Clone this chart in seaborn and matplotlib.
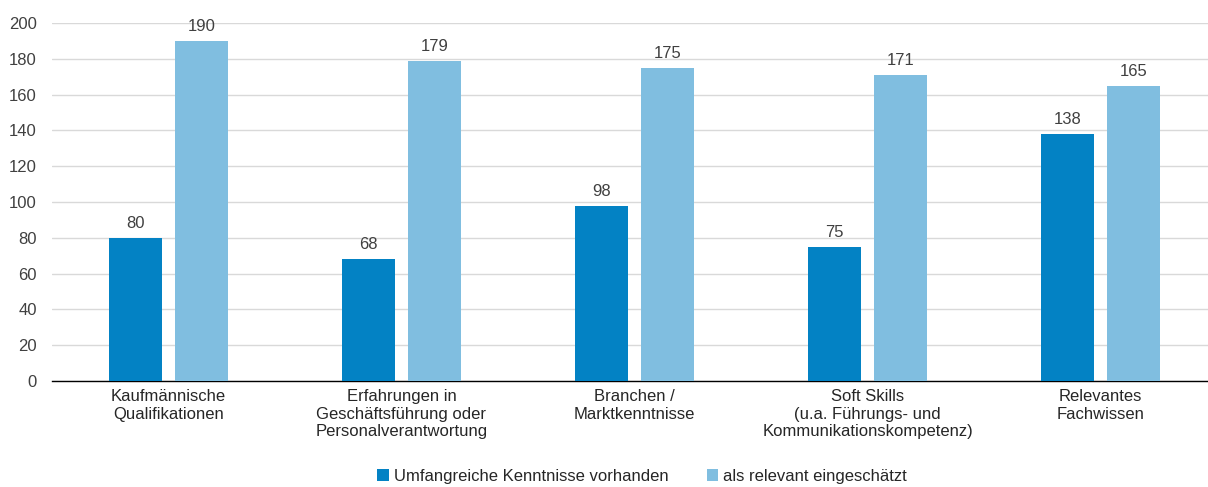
import matplotlib
matplotlib.use("Agg")
import matplotlib.pyplot as plt
import seaborn as sns
import pandas as pd
from matplotlib.patches import Patch

categories = ["Kaufmännische\nQualifikationen",
              "Erfahrungen in\nGeschäftsführung oder\nPersonalverantwortung",
              "Branchen /\nMarktkenntnisse",
              "Soft Skills\n(u.a. Führungs- und\nKommunikationskompetenz)",
              "Relevantes\nFachwissen"]
series_names = ["Umfangreiche Kenntnisse vorhanden", "als relevant eingeschätzt"]
vals_vorhanden = [80, 68, 98, 75, 138]
vals_relevant = [190, 179, 175, 171, 165]
yticks = [0, 20, 40, 60, 80, 100, 120, 140, 160, 180, 200]

colors = ["#0382C4", "#80BEE0"]

df = pd.DataFrame({
    "cat": categories * 2,
    "series": [series_names[0]] * 5 + [series_names[1]] * 5,
    "val": vals_vorhanden + vals_relevant,
})

sns.set_theme(style="white")
plt.rcParams['font.family'] = ['Liberation Sans', 'DejaVu Sans']

fig = plt.figure(figsize=(12.08, 4.87), dpi=100)
ax = fig.add_axes([52/1208, 106/487, 1165/1208, 358/487])

sns.barplot(data=df, x="cat", y="val", hue="series", palette=colors,
            width=0.566, gap=0.21, ax=ax, legend=False, errorbar=None,
            saturation=1, edgecolor="none", zorder=3)

for cont in ax.containers:
    ax.bar_label(cont, padding=5, fontsize=12, color="#404040")

ax.set_xlim(-0.5, 4.5)
ax.set_ylim(0, 200)
ax.set_yticks(yticks)
ax.set_yticklabels([str(t) for t in yticks], fontsize=12, color="#404040")
ax.tick_params(axis="x", labelsize=12, colors="#262626", length=0, pad=6)
ax.tick_params(axis="y", length=0, pad=11)
ax.set_xlabel("")
ax.set_ylabel("")
ax.yaxis.grid(True, color="#D9D9D9", linewidth=1, zorder=0)
ax.set_axisbelow(True)
for s in ["top", "right", "left"]:
    ax.spines[s].set_visible(False)
ax.spines["bottom"].set_color("#000000")
ax.spines["bottom"].set_linewidth(1)
for lab in ax.get_xticklabels():
    lab.set_linespacing(1.2)

handles = [Patch(facecolor=c, edgecolor="none") for c in colors]
fig.legend(handles, series_names, loc="center", bbox_to_anchor=(642/1208, 11/487),
           ncol=2, frameon=False, fontsize=12, handlelength=0.7, handleheight=0.7,
           handletextpad=0.3, columnspacing=2.3, labelcolor="#262626")

fig.savefig("out.png", dpi=100)
